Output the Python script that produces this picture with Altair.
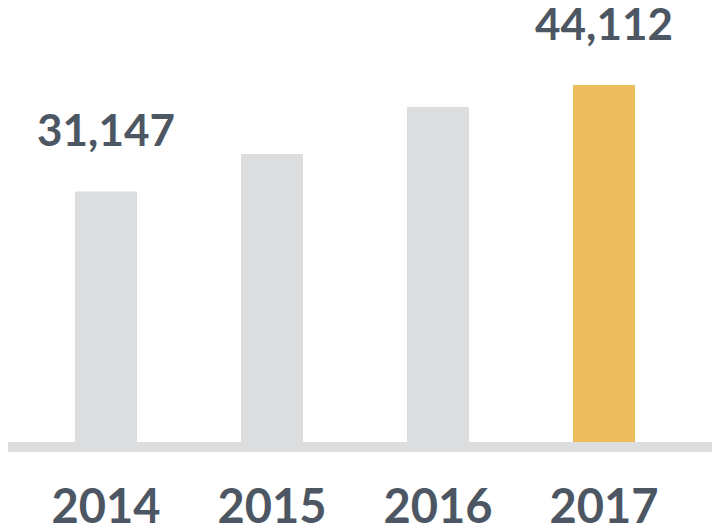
import altair as alt
import pandas as pd

years = ["2014", "2015", "2016", "2017"]
values = [31147, 35700, 41450, 44112]
labelled_years = ["2014", "2017"]

GRAY = "#dcdddf"
GOLD = "#ebbc5c"
TEXT = "#4d5763"

df = pd.DataFrame({"year": years, "value": values})

W, H = 694, 439

x = alt.X(
    "year:N",
    sort=years,
    scale=alt.Scale(paddingInner=0.6265, paddingOuter=0.4036),
    axis=alt.Axis(
        title=None,
        domain=False,
        ticks=True,
        tickSize=0,
        tickColor="transparent",
        grid=False,
        labelAngle=0,
        labelFont="Lato",
        labelFontWeight="bold",
        labelFontSize=47,
        labelColor=TEXT,
        labelBaseline="alphabetic",
        labelPadding=75,
    ),
)
y = alt.Y("value:Q", scale=alt.Scale(domain=[0, 53500], nice=False, zero=True), axis=None)

base = alt.Chart(df)

bars = base.mark_bar().encode(
    x=x,
    y=y,
    color=alt.condition(alt.datum.year == "2017", alt.value(GOLD), alt.value(GRAY)),
)

baseline = base.mark_rule(color=GRAY, strokeWidth=10).encode(
    x=alt.value(0), x2=alt.value(704), y=alt.value(H)
)

labels = (
    base.transform_filter(alt.FieldOneOfPredicate(field="year", oneOf=labelled_years))
    .mark_text(
        font="Lato",
        fontWeight="bold",
        fontSize=44,
        color=TEXT,
        baseline="alphabetic",
        align="center",
        dy=-45,
    )
    .encode(x=x, y=y, text=alt.Text("value:Q", format=","))
)

chart = (
    alt.layer(bars, baseline, labels)
    .properties(
        width=W,
        height=H,
        autosize=alt.AutoSizeParams(type="none"),
        padding={"left": 0, "top": 0, "right": 10, "bottom": 79},
        background="white",
    )
    .configure_view(stroke=None)
)

chart.save("out.html", embed_options={"renderer": "svg", "actions": False})
